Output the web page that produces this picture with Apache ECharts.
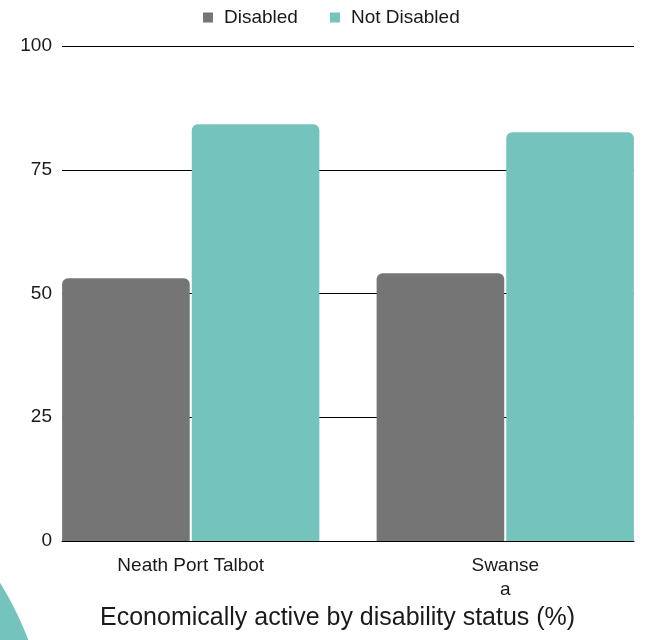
<!DOCTYPE html>
<html>
<head>
<meta charset="utf-8">
<script src="https://cdn.jsdelivr.net/npm/echarts@6/dist/echarts.min.js"></script>
<style>
  html, body { margin: 0; padding: 0; background: #ffffff; }
  #chart { width: 646px; height: 640px; }
</style>
</head>
<body>
<div id="chart"></div>
<script>
// Areas compared
const categories = ['Neath Port Talbot', 'Swansea'];
// Share economically active (%)
const disabled = [53.1, 54.1];
const notDisabled = [84.2, 82.6];
const seriesNames = ['Disabled', 'Not Disabled'];
const yTicks = { min: 0, max: 100, interval: 25 };

const GREY = '#757575';
const TEAL = '#74c3bc';
const INK = '#1a1a1a';
const FONT = 'Liberation Sans, Arial, sans-serif';

// Axis labels as shown under each group (Swansea wraps onto two lines)
const labelText = {
  'Neath Port Talbot': 'Neath Port Talbot',
  'Swansea': 'Swanse\na'
};

const chart = echarts.init(document.getElementById('chart'), null, { renderer: 'canvas' });

chart.setOption({
  animation: false,
  backgroundColor: '#ffffff',
  textStyle: { fontFamily: FONT },
  legend: {
    data: seriesNames,
    top: 8,
    left: 203,
    padding: 0,
    itemWidth: 10,
    itemHeight: 10,
    itemGap: 32,
    icon: 'rect',
    textStyle: { fontSize: 19, color: INK, fontFamily: FONT, padding: [0, 0, 0, 6] }
  },
  grid: [
    // bar grid: wider than the rules so the outer bars sit flush with their ends
    { left: 33.5, width: 629, top: 46, bottom: 99, outerBoundsMode: 'none', containLabel: false },
    // axis grid: carries the y labels and horizontal rules
    { left: 62, right: 12, top: 46, bottom: 99, outerBoundsMode: 'none', containLabel: false }
  ],
  xAxis: [
    {
      type: 'category', gridIndex: 0, data: categories,
      axisLine: { show: false }, axisTick: { show: false },
      axisLabel: {
        margin: 13, fontSize: 19, color: INK, fontFamily: FONT,
        lineHeight: 24,
        formatter: v => labelText[v]
      }
    },
    {
      type: 'category', gridIndex: 1, data: categories,
      axisLine: { show: true, lineStyle: { color: '#000000', width: 1 } },
      axisTick: { show: false }, axisLabel: { show: false }
    }
  ],
  yAxis: [
    {
      type: 'value', gridIndex: 0, min: yTicks.min, max: yTicks.max, interval: yTicks.interval,
      show: false, splitLine: { show: false }
    },
    {
      type: 'value', gridIndex: 1, min: yTicks.min, max: yTicks.max, interval: yTicks.interval,
      axisLine: { show: false }, axisTick: { show: false },
      axisLabel: { margin: 10, fontSize: 19, color: INK, fontFamily: FONT },
      splitLine: { show: true, lineStyle: { color: '#000000', width: 1 } }
    }
  ],
  series: [
    {
      name: seriesNames[0], type: 'bar', xAxisIndex: 0, yAxisIndex: 0,
      data: disabled, barGap: '1.6%', barCategoryGap: '18.2%',
      itemStyle: { color: GREY, borderRadius: [6, 6, 0, 0] }, z: 3
    },
    {
      name: seriesNames[1], type: 'bar', xAxisIndex: 0, yAxisIndex: 0,
      data: notDisabled, barGap: '1.6%', barCategoryGap: '18.2%',
      itemStyle: { color: TEAL, borderRadius: [6, 6, 0, 0] }, z: 3
    }
  ],
  title: {
    text: 'Economically active by disability status (%)',
    left: 100,
    top: 606,
    padding: 0,
    textStyle: { fontSize: 25, fontWeight: 'normal', color: INK, fontFamily: FONT }
  },
  graphic: [
    {
      type: 'circle', z: -1, silent: true,
      shape: { cx: -275, cy: 754, r: 324 },
      style: { fill: TEAL }
    }
  ]
});
</script>
</body>
</html>
